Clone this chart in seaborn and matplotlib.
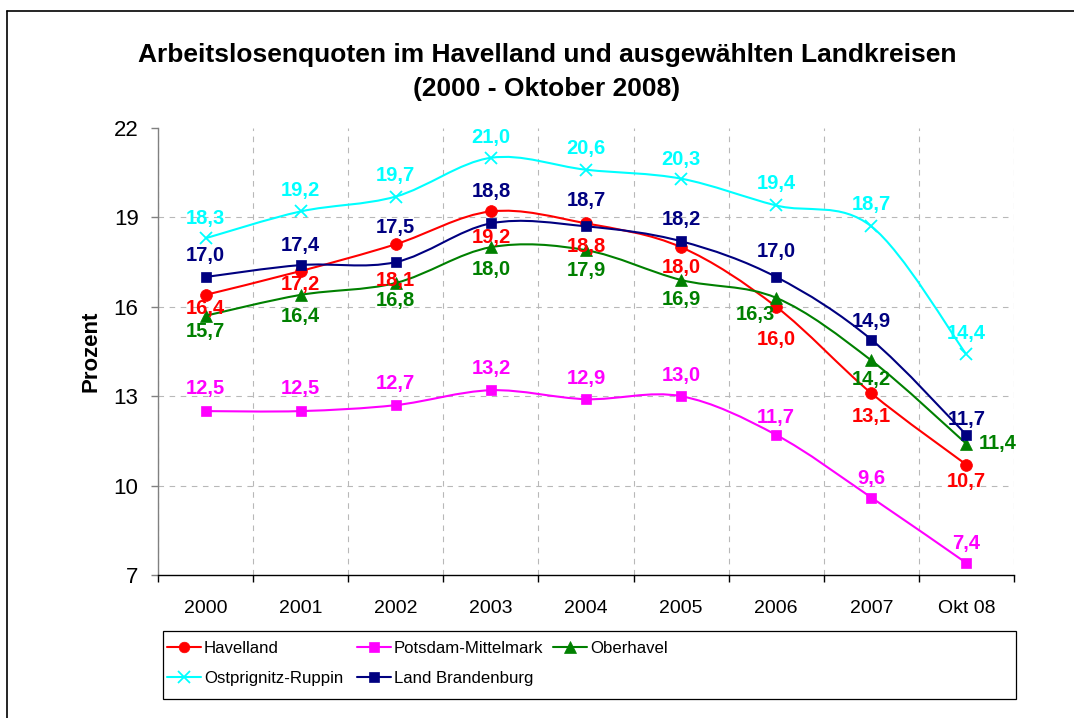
import numpy as np
import pandas as pd
import matplotlib
matplotlib.use("Agg")
import matplotlib.pyplot as plt
import seaborn as sns
from matplotlib.path import Path
from matplotlib.patches import PathPatch, Rectangle
from matplotlib.lines import Line2D

# ---------------- data ----------------
categories = ["2000", "2001", "2002", "2003", "2004", "2005", "2006", "2007", "Okt 08"]
havelland = [16.4, 17.2, 18.1, 19.2, 18.8, 18.0, 16.0, 13.1, 10.7]
potsdam_mittelmark = [12.5, 12.5, 12.7, 13.2, 12.9, 13.0, 11.7, 9.6, 7.4]
oberhavel = [15.7, 16.4, 16.8, 18.0, 17.9, 16.9, 16.3, 14.2, 11.4]
ostprignitz_ruppin = [18.3, 19.2, 19.7, 21.0, 20.6, 20.3, 19.4, 18.7, 14.4]
land_brandenburg = [17.0, 17.4, 17.5, 18.8, 18.7, 18.2, 17.0, 14.9, 11.7]
series_names = ["Havelland", "Potsdam-Mittelmark", "Oberhavel",
                "Ostprignitz-Ruppin", "Land Brandenburg"]
y_ticks = [7, 10, 13, 16, 19, 22]

# ---------------- styling ----------------
colors = {"Havelland": "#FF0000", "Potsdam-Mittelmark": "#FF00FF",
          "Oberhavel": "#008000", "Ostprignitz-Ruppin": "#00FFFF",
          "Land Brandenburg": "#000080"}
markers = {"Havelland": "o", "Potsdam-Mittelmark": "s", "Oberhavel": "^",
           "Ostprignitz-Ruppin": "x", "Land Brandenburg": "s"}
msizes = {"Havelland": 8.5, "Potsdam-Mittelmark": 7.5, "Oberhavel": 9,
          "Ostprignitz-Ruppin": 9, "Land Brandenburg": 7.5}
# label offsets in pixels (dx, dy; dy positive = downwards)
label_dy = {"Havelland": [14, 13, 36, 26, 23, 20, 33, 23, 17],
            "Potsdam-Mittelmark": [-23, -23, -22, -22, -21, -21, -17, -19, -20],
            "Oberhavel": [16, 22, 18, 22, 20, 20, 17, 19, 0],
            "Ostprignitz-Ruppin": [-20, -21, -21, -20, -21, -19, -22, -22, -21],
            "Land Brandenburg": [-21, -20, -35, -32, -26, -22, -25, -18, -15]}
label_dx = {"Oberhavel": [0, 0, 0, 0, 0, 0, -21, 0, 31]}

values = {"Havelland": havelland, "Potsdam-Mittelmark": potsdam_mittelmark,
          "Oberhavel": oberhavel, "Ostprignitz-Ruppin": ostprignitz_ruppin,
          "Land Brandenburg": land_brandenburg}

rows = []
for name in series_names:
    for i, (cat, v) in enumerate(zip(categories, values[name])):
        rows.append({"Kategorie": cat, "pos": i, "Serie": name, "Wert": v})
df = pd.DataFrame(rows)

sns.set_style("white")
plt.rcParams["font.family"] = ["Liberation Sans", "DejaVu Sans"]
plt.rcParams["text.color"] = "black"
plt.rcParams["axes.labelcolor"] = "black"
plt.rcParams["xtick.color"] = "black"
plt.rcParams["ytick.color"] = "black"

W, H = 1074, 718
fig = plt.figure(figsize=(W / 100, H / 100), dpi=100)
L, R, T, B = 158, 1014, 128, 575
ax = fig.add_axes([L / W, 1 - B / H, (R - L) / W, (B - T) / H])


def smooth_path(xs, ys):
    pts = np.column_stack([np.asarray(xs, float), np.asarray(ys, float)])
    n = len(pts)
    verts = [pts[0]]
    codes = [Path.MOVETO]
    for i in range(n - 1):
        p0 = pts[i - 1] if i > 0 else pts[i]
        p1 = pts[i]
        p2 = pts[i + 1]
        p3 = pts[i + 2] if i + 2 < n else pts[i + 1]
        c1 = p1 + (p2 - p0) / 6.0
        c2 = p2 - (p3 - p1) / 6.0
        verts += [c1, c2, p2]
        codes += [Path.CURVE4] * 3
    return Path(verts, codes)


for k, name in enumerate(series_names):
    sub = df[df["Serie"] == name]
    col = colors[name]
    ax.add_patch(PathPatch(smooth_path(sub["pos"], sub["Wert"]), fill=False,
                           edgecolor=col, lw=1.5, zorder=3 + k))
    mk = markers[name]
    sns.lineplot(data=sub, x="pos", y="Wert", ax=ax, color=col, marker=mk,
                 markersize=msizes[name], linestyle="none",
                 markeredgecolor=col, markerfacecolor=col,
                 markeredgewidth=1.3 if mk == "x" else 0.5,
                 legend=False, errorbar=None, zorder=3 + k)

# data labels
for k, name in enumerate(series_names):
    sub = df[df["Serie"] == name]
    dys = label_dy[name]
    dxs = label_dx.get(name, [0] * len(categories))
    for (x, v), dy, dx in zip(zip(sub["pos"], sub["Wert"]), dys, dxs):
        ax.annotate(f"{v:.1f}".replace(".", ","), (x, v),
                    xytext=(dx, -dy), textcoords="offset pixels",
                    ha="center", va="center", fontsize=14.5, fontweight="bold",
                    color=colors[name], zorder=20)

ax.set_xlim(-0.5, len(categories) - 0.5)
ax.set_ylim(y_ticks[0], y_ticks[-1])
ax.set_yticks(y_ticks)
ax.set_yticklabels([str(t) for t in y_ticks])
ax.set_xticks(np.arange(-0.5, len(categories), 1.0))
ax.set_xticklabels([])
ax.set_xticks(np.arange(len(categories)), minor=True)
ax.set_xticklabels(categories, minor=True)
ax.tick_params(axis="x", which="major", bottom=True, length=5, width=1,
               color="black", direction="out")
ax.tick_params(axis="x", which="minor", bottom=True, length=0, pad=18,
               labelsize=14, labelcolor="black")
ax.tick_params(axis="y", which="major", left=True, length=5, width=1,
               color="#808080", direction="out", pad=9, labelsize=16,
               labelcolor="black")
ax.set_xlabel("")
ax.set_ylabel("Prozent", fontsize=16, fontweight="bold", color="black")
ax.yaxis.set_label_coords((102 - L) / (R - L), 0.5)

ax.grid(True, which="major", axis="both", linestyle=(0, (5, 5)),
        color="#b8b8b8", linewidth=0.8)
for gl, val in zip(ax.get_ygridlines(), ax.get_yticks()):
    if val in (y_ticks[0], y_ticks[-1]):
        gl.set_visible(False)
for s in ("top", "right"):
    ax.spines[s].set_visible(False)
ax.spines["left"].set_color("#808080")
ax.spines["left"].set_linewidth(1)
ax.spines["bottom"].set_color("black")
ax.spines["bottom"].set_linewidth(1)

# title
fig.text(547 / W, 1 - 72 / H,
         "Arbeitslosenquoten im Havelland und ausgewählten Landkreisen\n(2000 - Oktober 2008)",
         ha="center", va="center", fontsize=19, fontweight="bold",
         linespacing=1.5, color="black")

# legend: three columns placed like the original
handles = {}
for name in series_names:
    mk = markers[name]
    handles[name] = Line2D([], [], color=colors[name], lw=1.5, marker=mk,
                           markersize=msizes[name] * 0.9,
                           markeredgewidth=1.3 if mk == "x" else 0.5,
                           markerfacecolor=colors[name],
                           markeredgecolor=colors[name])
legend_columns = [["Havelland", "Ostprignitz-Ruppin"],
                  ["Potsdam-Mittelmark", "Land Brandenburg"],
                  ["Oberhavel"]]
column_x = [167, 357, 553]
for names, cx in zip(legend_columns, column_x):
    fig.legend([handles[n] for n in names], names, loc="upper left",
               bbox_to_anchor=(cx / W, 1 - 641 / H), frameon=False,
               fontsize=12.1, handlelength=2.0, handletextpad=0.2,
               labelspacing=0.87, borderpad=0, borderaxespad=0,
               labelcolor="black")
fig.add_artist(Rectangle((163 / W, 1 - 699 / H), 853 / W, 68 / H,
                         transform=fig.transFigure, fill=False,
                         edgecolor="black", lw=0.9))

# outer frame (left and top edges visible)
fig.add_artist(Line2D([7.5 / W, 7.5 / W], [0, 1 - 10.5 / H],
                      transform=fig.transFigure, color="black", lw=1.2))
fig.add_artist(Line2D([7.5 / W, 1], [1 - 10.5 / H, 1 - 10.5 / H],
                      transform=fig.transFigure, color="black", lw=1.2))

fig.savefig("out.png", dpi=100)
